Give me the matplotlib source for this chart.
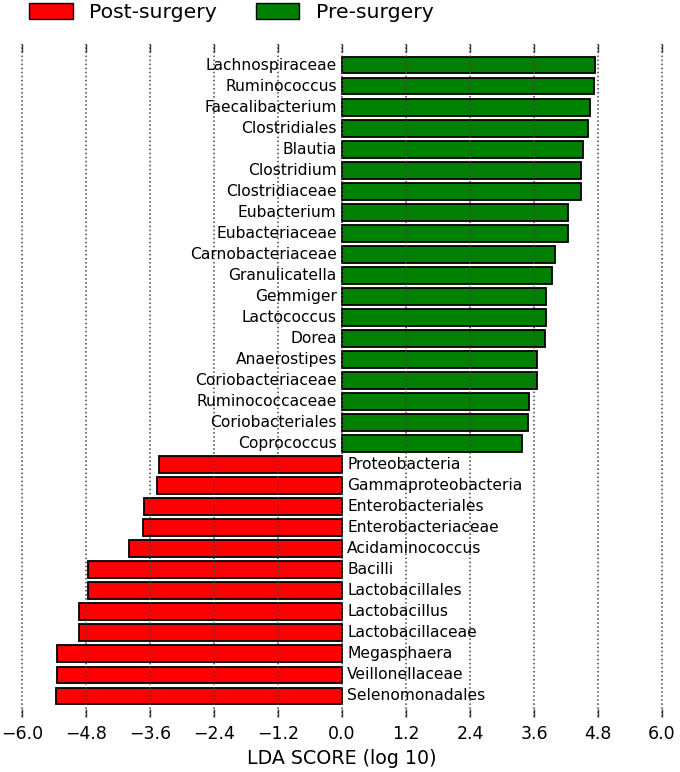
import matplotlib
matplotlib.use("Agg")
import matplotlib.pyplot as plt
from matplotlib.patches import Patch

# Bars listed from top to bottom
taxa = ["Lachnospiraceae", "Ruminococcus", "Faecalibacterium", "Clostridiales",
        "Blautia", "Clostridium", "Clostridiaceae", "Eubacterium", "Eubacteriaceae",
        "Carnobacteriaceae", "Granulicatella", "Gemmiger", "Lactococcus", "Dorea",
        "Anaerostipes", "Coriobacteriaceae", "Ruminococcaceae", "Coriobacteriales",
        "Coprococcus",
        "Proteobacteria", "Gammaproteobacteria", "Enterobacteriales",
        "Enterobacteriaceae", "Acidaminococcus", "Bacilli", "Lactobacillales",
        "Lactobacillus", "Lactobacillaceae", "Megasphaera", "Veillonellaceae",
        "Selenomonadales"]
lda = [4.75, 4.72, 4.65, 4.62, 4.52, 4.49, 4.49, 4.23, 4.23, 3.99, 3.93, 3.83,
       3.82, 3.81, 3.65, 3.65, 3.50, 3.48, 3.37,
       -3.43, -3.47, -3.71, -3.74, -4.00, -4.76, -4.76, -4.94, -4.94, -5.34,
       -5.35, -5.37]
groups = ["Pre-surgery"] * 19 + ["Post-surgery"] * 12
group_colors = {"Post-surgery": "#ff0000", "Pre-surgery": "#008000"}
xticks = [-6.0, -4.8, -3.6, -2.4, -1.2, 0.0, 1.2, 2.4, 3.6, 4.8, 6.0]

fig = plt.figure(figsize=(6.8, 7.72), dpi=100)
ax = fig.add_axes([6 / 680, 55 / 772, 672 / 680, 673 / 772])

n = len(taxa)
ypos = [n - 1 - i for i in range(n)]
colors = [group_colors[g] for g in groups]
ax.barh(ypos, lda, height=0.8, color=colors, edgecolor="black", linewidth=1.3,
        zorder=1)

for y, v, name in zip(ypos, lda, taxa):
    if v > 0:
        ax.text(-0.1, y, name, ha="right", va="center", fontsize=11.2, zorder=3)
    else:
        ax.text(0.1, y, name, ha="left", va="center", fontsize=11.2, zorder=3)

ax.set_xlim(-6.3, 6.3)
ax.set_ylim(-1, n)
ax.set_xticks(xticks)
ax.set_xticklabels([f"{t:.1f}".replace("-", "\u2212") for t in xticks], fontsize=12.5)
ax.set_yticks([])
ax.xaxis.grid(True, linestyle=":", color="#444444", linewidth=1.1, zorder=2)
ax.set_axisbelow(False)
ax.tick_params(axis="x", direction="in", top=True, bottom=True, length=6,
               width=1, color="#333333", pad=6)
for s in ax.spines.values():
    s.set_visible(False)
ax.set_xlabel("LDA SCORE (log 10)", fontsize=13.7, labelpad=4)

handles = [Patch(facecolor=group_colors["Post-surgery"], edgecolor="black", label="Post-surgery"),
           Patch(facecolor=group_colors["Pre-surgery"], edgecolor="black", label="Pre-surgery")]
fig.legend(handles=handles, loc="upper left", bbox_to_anchor=(29 / 680, 1 - 3 / 772), ncol=2,
           frameon=False, fontsize=14.7, handlelength=2.14, handleheight=0.8,
           columnspacing=1.9, handletextpad=0.8, borderpad=0.0, borderaxespad=0.0)

fig.savefig("out.png", dpi=100)
